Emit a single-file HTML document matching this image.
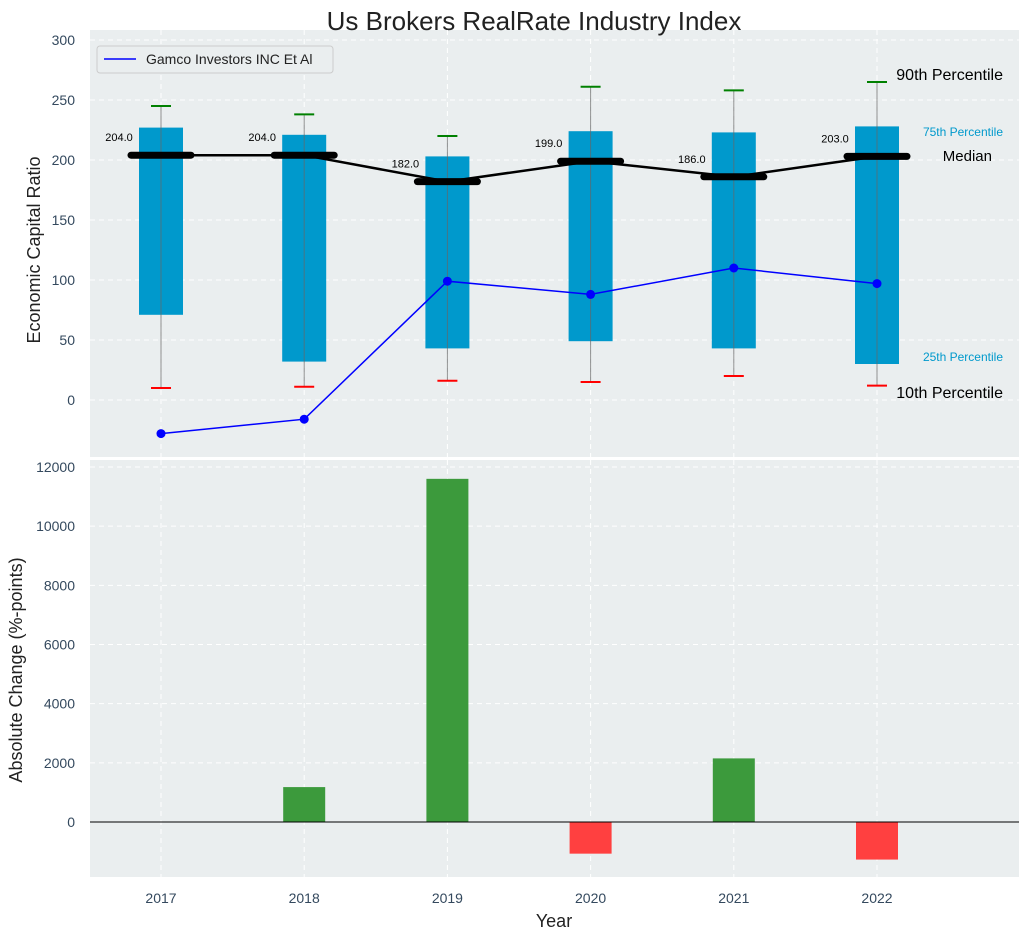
<!DOCTYPE html>
<html><head><meta charset="utf-8"><style>
body{margin:0;background:#fff;font-family:"Liberation Sans",sans-serif;}
svg text{font-family:"Liberation Sans",sans-serif;}
</style></head><body>
<svg id="c" width="1029" height="940" xmlns="http://www.w3.org/2000/svg"></svg>
<script>
const years=[2017,2018,2019,2020,2021,2022];
const p10=[10,11,16,15,20,12];
const p25=[71,32,43,49,43,30];
const med=[204,204,182,199,186,203];
const p75=[227,221,203,224,223,228];
const p90=[245,238,220,261,258,265];
const company=[-28,-16,99,88,110,97];
const changes=[0,1180,11600,-1070,2150,-1270];
const topTicks=[0,50,100,150,200,250,300];
const botTicks=[0,2000,4000,6000,8000,10000,12000];

const NS="http://www.w3.org/2000/svg";
const svg=document.getElementById('c');
function el(t,a,txt,name,parent){const e=document.createElementNS(NS,t);for(const k in a)e.setAttribute(k,a[k]);if(txt!==undefined&&txt!==null)e.textContent=txt;


(parent||svg).appendChild(e);return e;}
const L=90,R=1019;
const x=i=>161+i*143.2;
const yT=v=>400-v*1.2;
const yB=v=>822-v*355/12000;
const TC='#34495e';
el('rect',{x:L,y:30,width:R-L,height:427,fill:'#eaeeef'},null,'top-panel');
el('rect',{x:L,y:460,width:R-L,height:417,fill:'#eaeeef'},null,'bottom-panel');
el('text',{x:534,y:30,'font-size':26,'text-anchor':'middle',fill:'#222'},'Us Brokers RealRate Industry Index','chart-title');
years.forEach((yr,i)=>{
 el('line',{x1:x(i),x2:x(i),y1:30,y2:457,stroke:'#fff','stroke-dasharray':'5,4'},null,'top-x-grid');
 el('line',{x1:x(i),x2:x(i),y1:460,y2:877,stroke:'#fff','stroke-dasharray':'5,4'},null,'bottom-x-grid');
 el('text',{x:x(i),y:903,'font-size':14,'text-anchor':'middle',fill:TC},yr,'x-tick-label');
});
topTicks.forEach(v=>{
 el('line',{x1:L,x2:R,y1:yT(v),y2:yT(v),stroke:'#fff','stroke-dasharray':'5,4'},null,'top-y-grid');
 el('text',{x:75,y:yT(v)+5,'font-size':14,'text-anchor':'end',fill:TC},v,'top-y-tick-label');
});
botTicks.forEach(v=>{
 el('line',{x1:L,x2:R,y1:yB(v),y2:yB(v),stroke:'#fff','stroke-dasharray':'5,4'},null,'bottom-y-grid');
 el('text',{x:75,y:yB(v)+5,'font-size':14,'text-anchor':'end',fill:TC},v,'bottom-y-tick-label');
});
el('text',{x:40,y:250,'font-size':18,'text-anchor':'middle',fill:'#222',transform:'rotate(-90 40 250)'},'Economic Capital Ratio','top-y-axis-title');
el('text',{x:22,y:670,'font-size':18,'text-anchor':'middle',fill:'#222',transform:'rotate(-90 22 670)'},'Absolute Change (%-points)','bottom-y-axis-title');
el('text',{x:554,y:927,'font-size':18,'text-anchor':'middle',fill:'#222'},'Year','x-axis-title');
years.forEach((yr,i)=>{
 const cx=x(i);
 el('rect',{x:cx-22,y:yT(p75[i]),width:44,height:yT(p25[i])-yT(p75[i]),fill:'#0099cc'},null,'iqr-box');
 el('line',{x1:cx,x2:cx,y1:yT(p90[i]),y2:yT(p10[i]),stroke:'#666','stroke-width':1,opacity:0.7},null,'whisker');
 el('line',{x1:cx-10,x2:cx+10,y1:yT(p90[i]),y2:yT(p90[i]),stroke:'green','stroke-width':2},null,'p90-cap');
 el('line',{x1:cx-10,x2:cx+10,y1:yT(p10[i]),y2:yT(p10[i]),stroke:'red','stroke-width':2},null,'p10-cap');
 el('line',{x1:cx-30,x2:cx+30,y1:yT(med[i]),y2:yT(med[i]),stroke:'#000','stroke-width':7,'stroke-linecap':'round'},null,'median-mark');
 el('text',{x:cx-42,y:yT(med[i])-14,'font-size':11,'text-anchor':'middle',fill:'#000'},med[i].toFixed(1),'median-label');
});
el('polyline',{points:years.map((y,i)=>x(i)+','+yT(med[i])).join(' '),fill:'none',stroke:'#000','stroke-width':2.5},null,'median-line');
el('polyline',{points:years.map((y,i)=>x(i)+','+yT(company[i])).join(' '),fill:'none',stroke:'blue','stroke-width':1.5},null,'company-line');
years.forEach((y,i)=>el('circle',{cx:x(i),cy:yT(company[i]),r:4.5,fill:'blue'},null,'company-point'));
el('text',{x:1003,y:80,'font-size':16,'text-anchor':'end',fill:'#000'},'90th Percentile','p90-label');
el('text',{x:1003,y:136,'font-size':12,'text-anchor':'end',fill:'#0099cc'},'75th Percentile','p75-label');
el('text',{x:992,y:161,'font-size':15,'text-anchor':'end',fill:'#000'},'Median','median-text');
el('text',{x:1003,y:361,'font-size':12,'text-anchor':'end',fill:'#0099cc'},'25th Percentile','p25-label');
el('text',{x:1003,y:398,'font-size':16,'text-anchor':'end',fill:'#000'},'10th Percentile','p10-label');
const g=el('g',{},null,'legend');
el('rect',{x:97,y:46,width:236,height:27,fill:'#eaeeef',stroke:'#ccc',rx:3},null,'legend-box',g);
el('line',{x1:104,x2:136,y1:59,y2:59,stroke:'blue','stroke-width':1.5},null,'legend-swatch',g);
el('text',{x:146,y:64,'font-size':14,fill:'#222'},'Gamco Investors INC Et Al','legend-entry',g);
changes.forEach((v,i)=>{
 if(v===0)return;
 const y0=yB(0),y1=yB(v);
 el('rect',{x:x(i)-21,y:Math.min(y0,y1),width:42,height:Math.abs(y1-y0),fill:v>0?'#3c9a3c':'#ff4040'},null,'change-bar-'+years[i]);
});
el('line',{x1:L,x2:R,y1:yB(0),y2:yB(0),stroke:'#000','stroke-width':1},null,'zero-line');
</script>
</body></html>
